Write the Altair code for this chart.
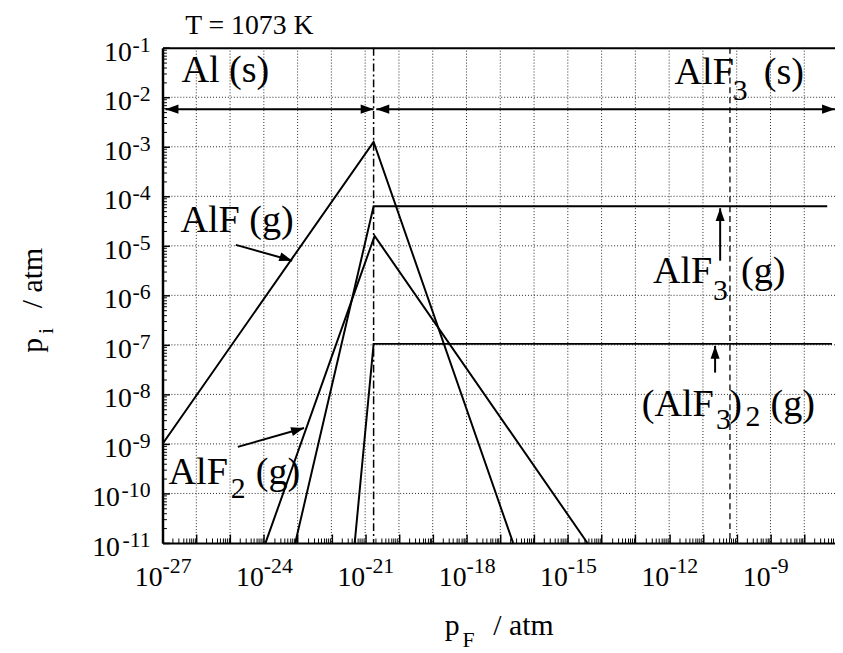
import altair as alt
import pandas as pd

FONT = "Liberation Serif"

# ---------------- data (log10 values) ----------------
X_MIN_EXP, X_MAX_EXP = -27.0, -7.09      # log10(pF / atm) range shown
Y_MIN_EXP, Y_MAX_EXP = -11.0, -1.0       # log10(pi / atm) range shown

# species partial pressures: log10(pF) -> log10(pi)
alf_x = [-27.0, -20.75, -16.62]
alf_y = [-9.0, -2.9, -11.0]
alf2_x = [-23.95, -20.72, -14.42]
alf2_y = [-11.0, -4.8, -11.0]
alf3_x = [-23.07, -20.75, -7.32]
alf3_y = [-11.0, -4.2, -4.2]
al2f6_x = [-21.31, -20.75, -7.18]
al2f6_y = [-11.0, -6.98, -6.98]

phase_boundary_x = [-20.75]   # Al(s) / AlF3(s)
dashed_x = [-10.2]

# region / label arrows (tail -> tip)
arrow_ids = ["A", "B", "C", "D", "E", "F"]
arrow_x0 = [-26.91, -20.67, -24.83, -24.77, -10.49, -10.64]
arrow_y0 = [-2.24, -2.24, -4.98, -9.06, -5.30, -7.56]
arrow_x1 = [-20.75, -7.09, -23.16, -22.81, -10.49, -10.64]
arrow_y1 = [-2.24, -2.24, -5.30, -8.68, -4.24, -7.02]
head_x = [-26.91, -20.75, -20.67, -7.09, -23.16, -22.81, -10.49, -10.64]
head_y = [-2.24, -2.24, -2.24, -2.24, -5.30, -8.68, -4.24, -7.02]
head_angle = [180, 0, 180, 0, 18, 344, 270, 270]

# annotation text pieces (anchored in data coordinates)
ann_text = ["Al (s)", "AlF", "3", "(s)",
            "AlF (g)",
            "AlF", "2", "(g)",
            "AlF", "3", "(g)",
            "(AlF", "3", ")", "2", "(g)",
            "T = 1073 K"]
ann_x = [-26.44, -11.84, -10.12, -9.20,
         -26.47,
         -26.82, -24.98, -24.24,
         -12.48, -10.70, -9.87,
         -12.81, -10.61, -10.22, -9.74, -9.0,
         -26.33]
ann_y = [-1.70, -1.74, -2.06, -1.74,
         -4.72,
         -9.80, -10.10, -9.80,
         -5.76, -6.10, -5.76,
         -8.44, -8.70, -8.44, -8.64, -8.44,
         -0.72]
ann_size = [38.5, 38.5, 30, 38.5,
            38.5,
            38.5, 30, 38.5,
            38.5, 30, 38.5,
            38.5, 30, 38.5, 30, 38.5,
            28]

x_label_exps = [-27, -24, -21, -18, -15, -12, -9]
y_label_exps = [-1, -2, -3, -4, -5, -6, -7, -8, -9, -10, -11]

# ---------------- tables ----------------
rows = []
for name, xs_, ys_ in [("AlF", alf_x, alf_y), ("AlF2", alf2_x, alf2_y),
                       ("AlF3", alf3_x, alf3_y), ("Al2F6", al2f6_x, al2f6_y)]:
    for i, (a, b) in enumerate(zip(xs_, ys_)):
        rows.append({"s": name, "o": i, "x": 10.0 ** a, "y": 10.0 ** b})
df_lines = pd.DataFrame(rows)

rows = []
for k, i in enumerate(arrow_ids):
    rows.append({"id": i, "o": 0, "x": 10.0 ** arrow_x0[k], "y": 10.0 ** arrow_y0[k]})
    rows.append({"id": i, "o": 1, "x": 10.0 ** arrow_x1[k], "y": 10.0 ** arrow_y1[k]})
df_shafts = pd.DataFrame(rows)

df_heads = pd.DataFrame({"x": [10.0 ** v for v in head_x],
                         "y": [10.0 ** v for v in head_y],
                         "a": head_angle})

df_ann = pd.DataFrame({"t": ann_text,
                       "x": [10.0 ** v for v in ann_x],
                       "y": [10.0 ** v for v in ann_y],
                       "fs": ann_size})

df_bound = pd.DataFrame({"x": [10.0 ** v for v in phase_boundary_x]})
df_dash = pd.DataFrame({"x": [10.0 ** v for v in dashed_x]})

df_xl = pd.DataFrame({"e": x_label_exps, "v": [10.0 ** e for e in x_label_exps],
                      "s": [str(e) for e in x_label_exps]})
df_yl = pd.DataFrame({"e": y_label_exps, "v": [10.0 ** e for e in y_label_exps],
                      "s": [str(e) for e in y_label_exps]})

# ---------------- scales & axes ----------------
W, H = 679, 500
xs = alt.Scale(type="log", domain=[10.0 ** X_MIN_EXP, 10.0 ** X_MAX_EXP], nice=False)
ys = alt.Scale(type="log", domain=[10.0 ** Y_MIN_EXP, 10.0 ** Y_MAX_EXP], nice=False)

x_dec = [10.0 ** k for k in range(-27, -7)]
x_min = [m * 10.0 ** k for k in range(-27, -7) for m in range(2, 10)
         if m * 10.0 ** k <= 10.0 ** X_MAX_EXP]
y_dec = [10.0 ** k for k in range(-11, 0)]
y_min = [m * 10.0 ** k for k in range(-11, -1) for m in range(2, 10)]

df_gx = pd.DataFrame({"x": x_dec[1:]})
df_gy = pd.DataFrame({"y": y_dec[1:-1]})

common = dict(labels=False, title=None, grid=False)
ax_main_x = alt.Axis(orient="bottom", values=[], ticks=False, domain=True,
                     domainColor="black", domainWidth=2, **common)
ax_main_y = alt.Axis(orient="left", values=[], ticks=False, domain=True,
                     domainColor="black", domainWidth=2.5, **common)
ax_top = alt.Axis(orient="top", values=[], ticks=False, domain=True,
                  domainColor="black", domainWidth=2, **common)
ax_x_major = alt.Axis(orient="top", offset=-H, values=x_dec, ticks=True,
                      tickSize=9, tickWidth=1.5, tickColor="black", domain=False, **common)
ax_x_minor = alt.Axis(orient="top", offset=-H, values=x_min, ticks=True,
                      tickSize=5, tickWidth=1, tickColor="black", domain=False, **common)
ax_y_major = alt.Axis(orient="right", offset=-W, values=y_dec, ticks=True,
                      tickSize=7, tickWidth=1.5, tickColor="black", domain=False, **common)
ax_y_minor = alt.Axis(orient="right", offset=-W, values=y_min, ticks=True,
                      tickSize=4, tickWidth=1, tickColor="black", domain=False, **common)

# ---------------- layers ----------------
grid_x = alt.Chart(df_gx).mark_rule(color="black", strokeWidth=1, strokeDash=[1, 2],
                                    opacity=0.85).encode(
    x=alt.X("x:Q", scale=xs, axis=None))
grid_y = alt.Chart(df_gy).mark_rule(color="black", strokeWidth=1, strokeDash=[1, 2],
                                    opacity=0.85).encode(
    y=alt.Y("y:Q", scale=ys, axis=None))

lines = alt.Chart(df_lines).mark_line(color="black", strokeWidth=2, clip=True).encode(
    x=alt.X("x:Q", scale=xs, axis=ax_main_x),
    y=alt.Y("y:Q", scale=ys, axis=ax_main_y),
    detail="s:N", order="o:Q")

bound = alt.Chart(df_bound).mark_rule(color="black", strokeWidth=1.5,
                                      strokeDash=[8, 3, 2, 3]).encode(
    x=alt.X("x:Q", scale=xs, axis=None))
dash = alt.Chart(df_dash).mark_rule(color="black", strokeWidth=1.3,
                                    strokeDash=[6, 4]).encode(
    x=alt.X("x:Q", scale=xs, axis=None))

shafts = alt.Chart(df_shafts).mark_line(color="black", strokeWidth=2, clip=True).encode(
    x=alt.X("x:Q", scale=xs, axis=ax_top),
    y=alt.Y("y:Q", scale=ys, axis=ax_y_major),
    detail="id:N", order="o:Q")

ARROW = "M0,0L-2,-0.7L-2,0.7Z"
heads = alt.Chart(df_heads).mark_point(shape=ARROW, size=170, filled=True, color="black",
                                       opacity=1, strokeWidth=0).encode(
    x=alt.X("x:Q", scale=xs, axis=ax_x_major),
    y=alt.Y("y:Q", scale=ys, axis=ax_y_minor),
    angle=alt.Angle("a:Q", scale=None))

ann = alt.Chart(df_ann).mark_text(font=FONT, align="left", baseline="alphabetic",
                                  color="black").encode(
    x=alt.X("x:Q", scale=xs, axis=ax_x_minor),
    y=alt.Y("y:Q", scale=ys, axis=None),
    text="t:N",
    size=alt.Size("fs:Q", scale=None))

# tick labels 10^n
x10 = alt.Chart(df_xl).mark_text(font=FONT, fontSize=28, align="right",
                                 baseline="alphabetic", color="black").encode(
    x=alt.X("v:Q", scale=xs, axis=None), y=alt.value(H + 43), text=alt.value("10"))
xexp = alt.Chart(df_xl).mark_text(font=FONT, fontSize=22, align="left",
                                  baseline="alphabetic", color="black").encode(
    x=alt.X("v:Q", scale=xs, axis=None), y=alt.value(H + 30), text="s:N")

yexp = alt.Chart(df_yl).mark_text(font=FONT, fontSize=22, align="right",
                                  baseline="alphabetic", dy=4, color="black").encode(
    x=alt.value(-12), y=alt.Y("v:Q", scale=ys, axis=None), text="s:N")
y10a = alt.Chart(df_yl).transform_filter("datum.e > -10").mark_text(
    font=FONT, fontSize=28, align="right", baseline="alphabetic", dy=13,
    color="black").encode(
    x=alt.value(-31), y=alt.Y("v:Q", scale=ys, axis=None), text=alt.value("10"))
y10b = alt.Chart(df_yl).transform_filter("datum.e <= -10").mark_text(
    font=FONT, fontSize=28, align="right", baseline="alphabetic", dy=13,
    color="black").encode(
    x=alt.value(-43), y=alt.Y("v:Q", scale=ys, axis=None), text=alt.value("10"))

# axis titles
one = pd.DataFrame({"k": [0]})


def piece(txt, x, y, fs, angle=0):
    kw = dict(font=FONT, fontSize=fs, align="left", baseline="alphabetic",
              color="black", text=txt)
    if angle:
        kw["angle"] = angle
    return alt.Chart(one).mark_text(**kw).encode(x=alt.value(x), y=alt.value(y))


titles = [
    piece("p", 285, H + 93, 30),
    piece("F", 303, H + 105, 22),
    piece("/ atm", 334, H + 93, 30),
    piece("p", -122, 308, 30, 270),
    piece("i", -111, 289, 22, 270),
    piece("/ atm", -122, 263, 30, 270),
]

chart = alt.layer(
    grid_x, grid_y, lines, bound, dash, shafts, heads, ann,
    x10, xexp, yexp, y10a, y10b, *titles
).resolve_axis(x="independent", y="independent").properties(
    width=W, height=H,
    autosize=alt.AutoSizeParams(type="none"),
    padding={"left": 156, "top": 37, "right": 0, "bottom": 108},
    background="white",
).configure_view(stroke=None)

chart.save("out.html", embed_options={"renderer": "svg", "actions": False})
